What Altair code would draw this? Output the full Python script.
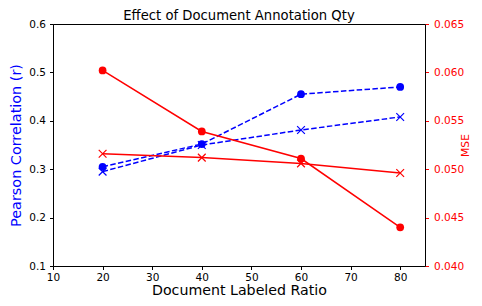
import altair as alt
import pandas as pd

ratios = [20, 40, 60, 80]
pearson_dot = [0.305, 0.352, 0.455, 0.470]
pearson_x = [0.295, 0.350, 0.381, 0.408]
mse_dot = [0.0602, 0.0539, 0.0511, 0.0440]
mse_x = [0.0516, 0.0512, 0.0506, 0.0496]

x_ticks = [10, 20, 30, 40, 50, 60, 70, 80]
left_ticks = [0.1, 0.2, 0.3, 0.4, 0.5, 0.6]
right_ticks = [0.040, 0.045, 0.050, 0.055, 0.060, 0.065]

BLUE = "#0000ff"
RED = "#ff0000"
FONT = "DejaVu Sans"
X_PATH = "M-1,-1L1,1M-1,1L1,-1"

pear = pd.DataFrame({
    "ratio": ratios * 2,
    "value": pearson_dot + pearson_x,
    "series": ["dot"] * 4 + ["x"] * 4,
})
mse = pd.DataFrame({
    "ratio": ratios * 2,
    "value": mse_dot + mse_x,
    "series": ["dot"] * 4 + ["x"] * 4,
})

x_enc = alt.X(
    "ratio:Q",
    scale=alt.Scale(domain=[10, 85], nice=False, zero=False),
    axis=alt.Axis(values=x_ticks, title="Document Labeled Ratio", format="d",
                  labelFlush=False, titleFontSize=14.2, titlePadding=0.5),
)

y_left = alt.Y(
    "value:Q",
    scale=alt.Scale(domain=[0.1, 0.6], nice=False, zero=False),
    axis=alt.Axis(values=left_ticks, format=".1f", title="Pearson Correlation (r)",
                  labelFlush=False, labelPadding=4,
                  titleColor=BLUE, orient="left", titleFontSize=14.4, titlePadding=5),
)

y_right = alt.Y(
    "value:Q",
    scale=alt.Scale(domain=[0.040, 0.065], nice=False, zero=False),
    axis=alt.Axis(values=right_ticks, format=".3f", title="MSE", orient="right",
                  labelFlush=False, labelPadding=5,
                  titleColor=RED, labelColor=RED, tickColor=RED, titleAngle=270,
                  titleFontSize=10.7, titlePadding=7),
)

blue_base = alt.Chart(pear).encode(x=x_enc, y=y_left)
blue = alt.layer(
    blue_base.mark_line(color=BLUE, strokeWidth=1.5, strokeDash=[5.5, 2.4]).encode(detail="series:N"),
    blue_base.mark_circle(color=BLUE, size=60, opacity=1).transform_filter(alt.datum.series == "dot"),
    blue_base.mark_point(shape=X_PATH, filled=False, color=BLUE, size=60, strokeWidth=1.2, opacity=1)
    .transform_filter(alt.datum.series == "x"),
)

red_base = alt.Chart(mse).encode(x=x_enc, y=y_right)
red = alt.layer(
    red_base.mark_line(color=RED, strokeWidth=1.5).encode(detail="series:N"),
    red_base.mark_circle(color=RED, size=60, opacity=1).transform_filter(alt.datum.series == "dot"),
    red_base.mark_point(shape=X_PATH, filled=False, color=RED, size=60, strokeWidth=1.2, opacity=1)
    .transform_filter(alt.datum.series == "x"),
)

chart = (
    alt.layer(blue, red)
    .resolve_scale(y="independent")
    .properties(
        width=372,
        height=242,
        autosize=alt.AutoSizeParams(type="none"),
        padding={"left": 45, "top": 16, "right": 49, "bottom": 32},
        title=alt.Title("Effect of Document Annotation Qty", fontSize=13.2, fontWeight="normal",
                        font=FONT, color="black", offset=0, dy=3.8),
    )
    .configure_view(stroke="black", strokeWidth=1)
    .configure_axis(
        grid=False,
        domainColor="black",
        domainWidth=1,
        tickColor="black",
        tickSize=3.5,
        labelFont=FONT,
        labelFontSize=10.5,
        labelColor="black",
        labelPadding=3,
        titleFont=FONT,
        titleFontWeight="normal",
        titleColor="black",
    )
)

chart.save("out.html", embed_options={"renderer": "svg", "actions": False})
